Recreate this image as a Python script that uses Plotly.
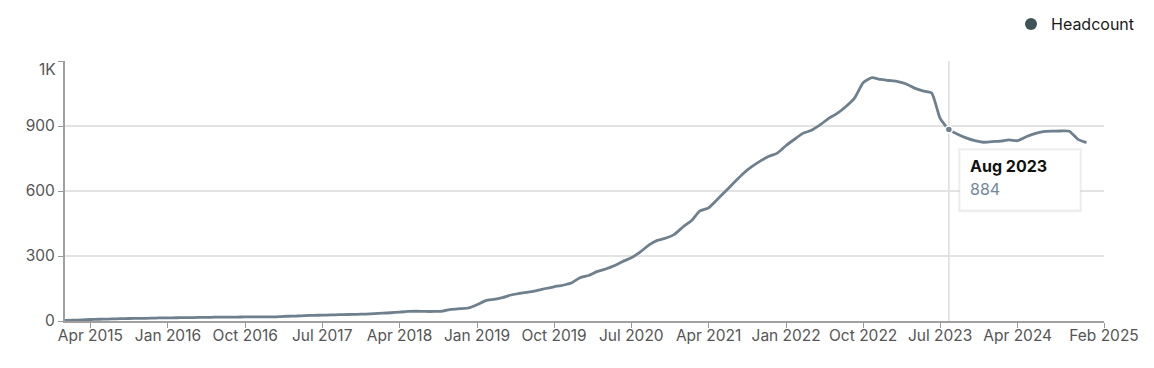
import pandas as pd
import plotly.graph_objects as go

# ---- data (monthly headcount, Jan 2015 .. Dec 2024) ----
headcount = [
    3, 4, 5, 7, 8, 9, 10, 11, 12, 12, 13, 14,            # 2015
    14, 15, 16, 16, 17, 17, 18, 18, 18, 19, 19, 19,      # 2016
    19, 20, 22, 23, 25, 26, 27, 28, 29, 30, 31, 32,      # 2017
    34, 36, 38, 41, 44, 45, 44, 44, 46, 54, 57, 60,      # 2018
    75, 94, 100, 108, 120, 128, 133, 140, 150, 158, 165, 175,   # 2019
    200, 210, 228, 240, 255, 275, 292, 318, 350, 372, 383, 400, # 2020
    435, 465, 508, 522, 560, 600, 640, 680, 712, 738, 760, 775, # 2021
    810, 840, 866, 880, 905, 935, 958, 990, 1030, 1100, 1123, 1115,  # 2022
    1110, 1105, 1095, 1075, 1062, 1052, 935, 884, 862, 845, 832, 825, # 2023
    828, 830, 836, 832, 850, 865, 874, 876, 877, 876, 838, 823,      # 2024
]
months = pd.date_range("2015-01-01", periods=len(headcount), freq="MS")

x_tick_dates = ["2015-04-01", "2016-01-01", "2016-10-01", "2017-07-01", "2018-04-01",
                "2019-01-01", "2019-10-01", "2020-07-01", "2021-04-01", "2022-01-01",
                "2022-10-01", "2023-07-01", "2024-04-01", "2025-02-01"]
x_tick_labels = ["Apr 2015", "Jan 2016", "Oct 2016", "Jul 2017", "Apr 2018",
                 "Jan 2019", "Oct 2019", "Jul 2020", "Apr 2021", "Jan 2022",
                 "Oct 2022", "Jul 2023", "Apr 2024", "Feb 2025"]
y_tick_vals = [0, 300, 600, 900, 1200]
y_tick_labels = ["0", "300", "600", "900", ""]

hover_index = 103  # Aug 2023
hover_label = "Aug 2023"

LINE = "#6e808e"
LEGEND_DOT = "#3f5459"
FONT = "Inter, Roboto, sans-serif"
TICK_SIZE = 15.5

W, H = 1154, 368
L, R, T, B = 65, 50, 61, 47
PW, PH = W - L - R, H - T - B


def px(xp):
    return (xp - L) / PW


def py(yp):
    return (H - B - yp) / PH


fig = go.Figure()

fig.add_trace(go.Scatter(
    x=months, y=headcount, mode="lines", name="Headcount",
    line=dict(color=LINE, width=2.8, shape="spline", smoothing=0.5),
    showlegend=False, hoverinfo="skip",
))

# legend entry
fig.add_trace(go.Scatter(
    x=[None], y=[None], mode="markers", name="Headcount",
    marker=dict(color=LEGEND_DOT, size=12, symbol="circle"),
    showlegend=True,
))

# hovered point
fig.add_trace(go.Scatter(
    x=[months[hover_index]], y=[headcount[hover_index]], mode="markers",
    marker=dict(color=LINE, size=7, line=dict(color="white", width=1.5)),
    showlegend=False, hoverinfo="skip", cliponaxis=False,
))

shapes = [
    # hover vertical line
    dict(type="line", xref="x", yref="paper", x0=months[hover_index], x1=months[hover_index],
         y0=0, y1=1, line=dict(color="#d4d4d4", width=1.2), layer="below"),
    # tooltip shadow
    dict(type="rect", xref="paper", yref="paper",
         x0=px(958), x1=px(1082), y0=py(212.5), y1=py(148),
         fillcolor="rgba(0,0,0,0.04)", line=dict(width=0)),
    dict(type="rect", xref="paper", yref="paper",
         x0=px(959), x1=px(1081), y0=py(211.5), y1=py(149),
         fillcolor="rgba(0,0,0,0.05)", line=dict(width=0)),
    # tooltip box
    dict(type="rect", xref="paper", yref="paper",
         x0=px(960), x1=px(1080), y0=py(210), y1=py(150),
         fillcolor="white", line=dict(color="#f0f0f0", width=1)),
]

annotations = [
    dict(xref="paper", yref="paper", x=px(968), y=py(166), xanchor="left", yanchor="middle",
         text="<b>" + hover_label + "</b>", showarrow=False,
         font=dict(family=FONT, size=16, color="#111111")),
    dict(xref="paper", yref="paper", x=px(968), y=py(189), xanchor="left", yanchor="middle",
         text=str(headcount[hover_index]), showarrow=False,
         font=dict(family=FONT, size=16, color="#72879a")),
    # top y label
    dict(xref="paper", yref="paper", x=px(58), y=py(69), xanchor="right", yanchor="middle",
         text="1K", showarrow=False,
         font=dict(family=FONT, size=TICK_SIZE, color="#555555")),
]

fig.update_layout(
    width=W, height=H,
    margin=dict(l=L, r=R, t=T, b=B, autoexpand=False),
    paper_bgcolor="white", plot_bgcolor="white",
    font=dict(family=FONT, size=TICK_SIZE, color="#555555"),
    shapes=shapes, annotations=annotations,
    showlegend=True,
    legend=dict(orientation="h", xref="container", yref="container",
                x=1140 / W, xanchor="right", y=1 - 24 / H, yanchor="middle",
                font=dict(family=FONT, size=16, color="#1a1a1a"),
                bgcolor="rgba(0,0,0,0)", itemsizing="constant"),
    xaxis=dict(
        type="date", range=["2015-01-01", "2025-02-01"],
        tickvals=x_tick_dates, ticktext=x_tick_labels,
        ticks="outside", ticklen=5, tickcolor="#999999", tickwidth=1.2,
        ticklabelstandoff=-6,
        showline=True, linecolor="#a0a0a0", linewidth=2,
        showgrid=False, zeroline=False, automargin=False,
        tickfont=dict(family=FONT, size=TICK_SIZE, color="#555555"),
        fixedrange=True,
    ),
    yaxis=dict(
        range=[0, 1200], tickvals=y_tick_vals, ticktext=y_tick_labels,
        ticks="outside", ticklen=5, tickcolor="#999999", tickwidth=1.2,
        showline=True, linecolor="#a0a0a0", linewidth=2,
        showgrid=True, gridcolor="#e3e3e3", gridwidth=1.5,
        zeroline=False, automargin=False,
        tickfont=dict(family=FONT, size=TICK_SIZE, color="#555555"),
        fixedrange=True,
    ),
)

fig.write_html("out.html", config={"displayModeBar": False},
               post_script="document.body.style.margin='0';document.body.style.overflow='hidden';")
